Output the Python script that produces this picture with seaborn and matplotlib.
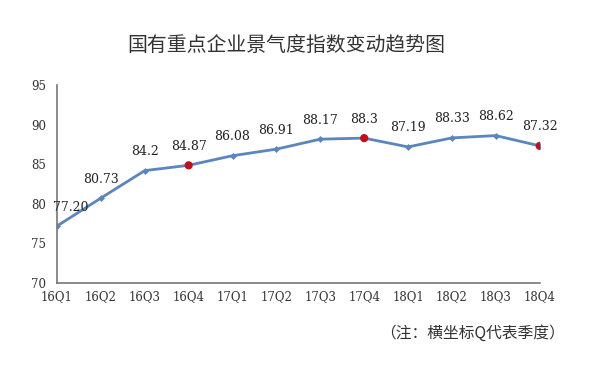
import matplotlib
matplotlib.use('Agg')

import pandas as pd
import matplotlib.pyplot as plt
import seaborn as sns

# datos
quarters = ['16Q1', '16Q2', '16Q3', '16Q4', '17Q1', '17Q2',
            '17Q3', '17Q4', '18Q1', '18Q2', '18Q3', '18Q4']
index_values = [77.20, 80.73, 84.2, 84.87, 86.08, 86.91,
                88.17, 88.3, 87.19, 88.33, 88.62, 87.32]
value_labels = ['77.20', '80.73', '84.2', '84.87', '86.08', '86.91',
                '88.17', '88.3', '87.19', '88.33', '88.62', '87.32']
highlight = ['16Q4', '17Q4', '18Q4']
y_ticks = [70, 75, 80, 85, 90, 95]

df = pd.DataFrame({'quarter': quarters, 'value': index_values, 'label': value_labels})
df['pos'] = range(len(df))

sns.set_style('white')
plt.rcParams['font.family'] = ['Noto Sans CJK SC', 'DejaVu Sans']

fig = plt.figure(figsize=(5.96, 3.73), dpi=100)
ax = fig.add_axes([0.0956, 0.241, 0.81, 0.531])

line_color = '#5a85bf'
sns.lineplot(data=df, x='pos', y='value', ax=ax, color=line_color,
             linewidth=2, marker='D', markersize=3.5, markeredgewidth=0)
hl = df[df['quarter'].isin(highlight)]
sns.scatterplot(data=hl, x='pos', y='value', ax=ax, color='#c0101a',
                s=35, edgecolor='none', zorder=5)

# etiquetas de valores
for _, r in df.iterrows():
    dx = 10 if r['pos'] == 0 else 0
    ax.annotate(r['label'], (r['pos'], r['value']), xytext=(dx, 9),
                textcoords='offset points', ha='center', va='bottom',
                fontsize=9, family='DejaVu Serif', color='#222222')

ax.set_xlim(0, len(quarters) - 1)
ax.set_ylim(70, 95)
ax.set_yticks(y_ticks)
ax.set_xticks(df['pos'])
ax.set_xticklabels(quarters)
ax.set_xlabel('')
ax.set_ylabel('')
for lbl in ax.get_xticklabels() + ax.get_yticklabels():
    lbl.set_family('DejaVu Serif')
    lbl.set_fontsize(8.5)
    lbl.set_color('#333333')

ax.tick_params(axis='x', direction='in', length=4, color='#777777', pad=5)
ax.tick_params(axis='y', direction='in', length=4, color='#777777', pad=8)
sns.despine(ax=ax)
for s in ['left', 'bottom']:
    ax.spines[s].set_color('#777777')
    ax.spines[s].set_linewidth(1.2)

fig.text(0.481, 0.879, '国有重点企业景气度指数变动趋势图', ha='center', va='center',
         fontsize=14.3, color='#333333')
fig.text(0.948, 0.107, '（注：横坐标Q代表季度）', ha='right', va='center',
         fontsize=11.3, color='#333333')

fig.savefig('out.png', dpi=100)
